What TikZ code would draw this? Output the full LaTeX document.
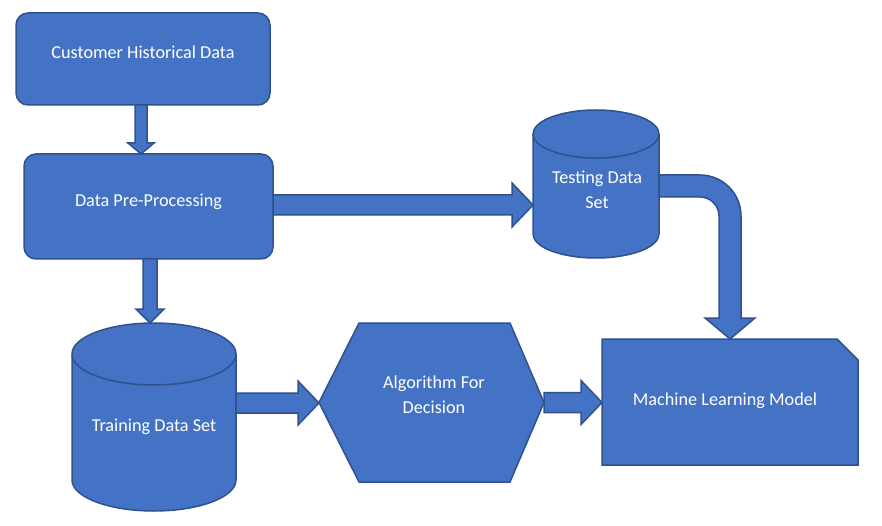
\documentclass[tikz,border=0pt]{standalone}
\usepackage{fontspec}
\setmainfont{Carlito}
\usetikzlibrary{calc, backgrounds}
\definecolor{fillblue}{HTML}{4472C4}
\definecolor{edgeblue}{HTML}{2F528F}
\newcommand{\blockarrow}[5]{
	\coordinate (hb) at ($(#2)!#5!(#1)$);
	\draw[blk] ($(#1)!#3!90:(#2)$) -- ($(hb)!#3!-90:(#1)$) -- ($(hb)!#4!-90:(#1)$) -- (#2) -- ($(hb)!#4!90:(#1)$) -- ($(hb)!#3!90:(#1)$) -- ($(#1)!#3!-90:(#2)$) -- cycle;
}

\begin{document}
\begin{tikzpicture}[x=1pt, y=-1pt,
	blk/.style={draw=edgeblue, fill=fillblue, line width=1.5pt, line join=miter},
	box/.style={blk, rounded corners=12pt, inner sep=0pt, outer sep=0pt},
	shapeframe/.style={inner sep=0pt, outer sep=0pt},
	lbl/.style={text=white, font=\fontsize{18.2}{25}\selectfont, align=center, inner sep=0pt, text height=11.7pt, text depth=0pt}]
	\useasboundingbox (0,0) rectangle (882,526);
	
	\node[box, minimum width=254, minimum height=92, label={[lbl, yshift=6pt]center:Customer Historical Data}] (hist) at (143,59) {};
	\node[box, minimum width=249, minimum height=105, label={[lbl, yshift=5.5pt]center:Data Pre-Processing}] (prep) at (148.5,206.5) {};
	\node[shapeframe, minimum width=126, minimum height=148, label={[lbl, xshift=1pt, yshift=-19pt]center:Testing Data\\Set}] (test) at (596,184) {};
	\node[shapeframe, minimum width=164, minimum height=188, label={[lbl, yshift=-9pt]center:Training Data Set}] (train) at (154,417) {};
	\node[shapeframe, minimum width=225, minimum height=159, label={[lbl, xshift=2.5pt, yshift=-5.5pt]center:Algorithm For\\Decision}] (algo) at (431.5,402.5) {};
	\node[shapeframe, minimum width=256, minimum height=126, label={[lbl, xshift=-5pt, yshift=2pt]center:Machine Learning Model}] (ml) at (730,402) {};
	
	\begin{scope}[on background layer]
		\draw[blk] ([yshift=-24pt]test.north west) -- ([yshift=24pt]test.south west) arc[start angle=180, end angle=360, x radius=63pt, y radius=24pt] -- ([yshift=-24pt]test.north east) arc[start angle=0, end angle=180, x radius=63pt, y radius=24pt] -- cycle;
		\draw[blk, fill=none] ([yshift=-24pt]test.north west) arc[start angle=180, end angle=360, x radius=63pt, y radius=24pt];
		\draw[blk] ([yshift=-31pt]train.north west) -- ([yshift=31pt]train.south west) arc[start angle=180, end angle=360, x radius=82pt, y radius=31pt] -- ([yshift=-31pt]train.north east) arc[start angle=0, end angle=180, x radius=82pt, y radius=31pt] -- cycle;
		\draw[blk, fill=none] ([yshift=-31pt]train.north west) arc[start angle=180, end angle=360, x radius=82pt, y radius=31pt];
		\draw[blk] (algo.west) -- ([xshift=40pt]algo.north west) -- ([xshift=-34pt]algo.north east) -- (algo.east) -- ([xshift=-34pt]algo.south east) -- ([xshift=40pt]algo.south west) -- cycle;
		\draw[blk] (ml.north west) -- ([xshift=-21pt]ml.north east) -- ([yshift=-21pt]ml.north east) -- (ml.south east) -- (ml.south west) -- cycle;
	\end{scope}
	
	\coordinate (p1) at ([xshift=-2pt]hist.south);
	\coordinate (q1) at (p1 |- prep.north);
	\blockarrow{p1}{q1}{6pt}{13pt}{11pt}
	\coordinate (p2) at ([xshift=1.5pt]prep.south);
	\coordinate (q2) at (p2 |- train.north);
	\blockarrow{p2}{q2}{7pt}{14pt}{14pt}
	\coordinate (p3) at ([yshift=1.5pt]prep.east);
	\coordinate (q3) at (p3 -| test.west);
	\blockarrow{p3}{q3}{10pt}{22pt}{21pt}
	\coordinate (p4) at ([yshift=14pt]train.east);
	\coordinate (q4) at (p4 -| algo.west);
	\blockarrow{p4}{q4}{10pt}{22pt}{21pt}
	\coordinate (q5) at (algo.east -| ml.west);
	\blockarrow{algo.east}{q5}{10pt}{22pt}{21pt}
	
	\coordinate (bs) at ([yshift=-2pt]test.east);
	\draw[blk] ($(bs)+(0,-11)$) -- ($(bs -| ml.north)+(-30,-11)$) arc[start angle=90, end angle=0, radius=41pt] -- ($(ml.north)+(11,-21)$) -- ++(14,0) -- (ml.north) -- ++(-25,-21) -- ++(14,0) -- ($(bs -| ml.north)+(-11,30)$) arc[start angle=0, end angle=90, radius=19pt] -- ($(bs)+(0,11)$) -- cycle;
\end{tikzpicture}
\end{document}
